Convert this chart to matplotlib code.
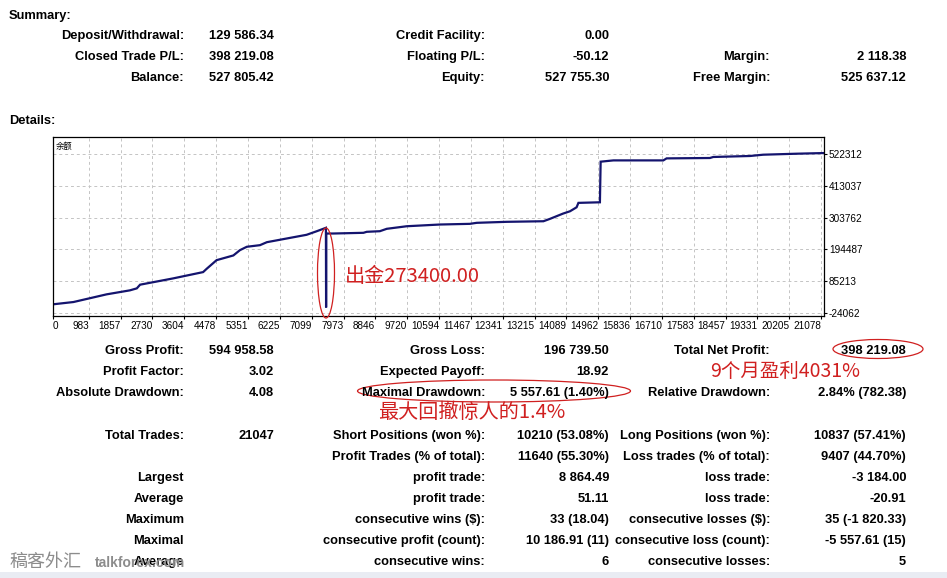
import numpy as np
import matplotlib
matplotlib.use("Agg")
import matplotlib.pyplot as plt
from matplotlib.patches import Ellipse

W, H = 947, 578

# balance curve (trade number, balance)
trade_no = [0, 560, 1470, 2110, 2300, 2390, 3300, 4120, 4220, 4490, 4950, 5130,
            5320, 5680, 5870, 6960, 7240, 7490, 7495, 7500, 7690, 8520, 8610,
            8970, 9160, 9710, 10620, 11440, 11630, 12450, 13460, 13640, 14000,
            14190, 14370, 14420, 15010, 15030, 15380, 16750, 16840, 18030,
            18120, 19130, 19490, 20410, 21140]
balance = [6700, 14500, 40800, 54500, 61300, 73900, 95500, 117000, 128600,
           157900, 174000, 192100, 203700, 209200, 219400, 244700, 257000,
           268600, -4000, 249100, 249100, 251500, 254900, 257000, 265200,
           274000, 279900, 282200, 285700, 289100, 291100, 299300, 317400,
           325300, 338900, 354000, 356000, 495000, 499400, 499400, 506300,
           507600, 511100, 514500, 518900, 522300, 524500]

x_ticks = [0, 983, 1857, 2730, 3604, 4478, 5351, 6225, 7099, 7973, 8846, 9720,
           10594, 11467, 12341, 13215, 14089, 14962, 15836, 16710, 17583,
           18457, 19331, 20205, 21078]
y_ticks = [-24062, 85213, 194487, 303762, 413037, 522312]

summary_rows = [
    ("Deposit/Withdrawal:", "129 586.34", "Credit Facility:", "0.00", "", ""),
    ("Closed Trade P/L:", "398 219.08", "Floating P/L:", "-50.12", "Margin:", "2 118.38"),
    ("Balance:", "527 805.42", "Equity:", "527 755.30", "Free Margin:", "525 637.12"),
]
detail_rows = [
    ("Gross Profit:", "594 958.58", "Gross Loss:", "196 739.50", "Total Net Profit:", "398 219.08"),
    ("Profit Factor:", "3.02", "Expected Payoff:", "18.92", "", ""),
    ("Absolute Drawdown:", "4.08", "Maximal Drawdown:", "5 557.61 (1.40%)", "Relative Drawdown:", "2.84% (782.38)"),
]
trade_rows = [
    ("Total Trades:", "21047", "Short Positions (won %):", "10210 (53.08%)", "Long Positions (won %):", "10837 (57.41%)"),
    ("", "", "Profit Trades (% of total):", "11640 (55.30%)", "Loss trades (% of total):", "9407 (44.70%)"),
    ("Largest", "", "profit trade:", "8 864.49", "loss trade:", "-3 184.00"),
    ("Average", "", "profit trade:", "51.11", "loss trade:", "-20.91"),
    ("Maximum", "", "consecutive wins ($):", "33 (18.04)", "consecutive losses ($):", "35 (-1 820.33)"),
    ("Maximal", "", "consecutive profit (count):", "10 186.91 (11)", "consecutive loss (count):", "-5 557.61 (15)"),
    ("Average", "", "consecutive wins:", "6", "consecutive losses:", "5"),
]

LATIN = ["Liberation Sans", "DejaVu Sans"]
CJK = ["Noto Sans CJK SC", "DejaVu Sans"]
RED = "#d02020"

fig = plt.figure(figsize=(W / 100, H / 100), dpi=100)
fig.patch.set_facecolor("white")


def ftext(x, y, s, ha="left", va="center", **kw):
    kw.setdefault("family", LATIN)
    kw.setdefault("fontsize", 9.3)
    kw.setdefault("fontweight", "bold")
    kw.setdefault("color", "black")
    fig.text(x / W, 1 - y / H, s, ha=ha, va=va, **kw)


def table(rows, y0, step):
    # y0 is the baseline of the first row
    cols = [184, 274, 485, 609, 770, 906]
    for i, row in enumerate(rows):
        y = y0 + i * step
        for c, s in zip(cols, row):
            if s:
                ftext(c, y, s, ha="right", va="baseline")


ftext(9, 19, "Summary:", va="baseline")
table(summary_rows, 39, 21)
ftext(9, 124, "Details:", va="baseline")
table(detail_rows, 354, 21)
table(trade_rows, 439, 21)

# balance chart
ax = fig.add_axes([53 / W, 1 - 316 / H, (824 - 53) / W, (316 - 137) / H])
ax.plot(trade_no, balance, color="#14146e", lw=1.6, solid_joinstyle="miter")
ax.set_xlim(0, 21160)
ax.set_ylim(-33300, 579500)
ax.set_xticks(x_ticks)
ax.set_xticklabels([str(v) for v in x_ticks])
ax.set_yticks(y_ticks)
ax.set_yticklabels([str(v) for v in y_ticks])
ax.yaxis.tick_right()
ax.tick_params(axis="both", labelsize=7.2, length=2, width=0.8, pad=1.5,
               colors="black")
for lab in ax.get_xticklabels():
    lab.set_family(LATIN)
    lab.set_ha("left" if lab.get_text() == "0" else "right")
for lab in ax.get_yticklabels():
    lab.set_family(LATIN)
ax.grid(True, color="#c4c4c4", ls=(0, (3, 3)), lw=0.7)
for sp in ax.spines.values():
    sp.set_linewidth(0.9)
    sp.set_color("black")
ax.text(0.004, 0.95, "余额", transform=ax.transAxes, fontsize=6,
        family=CJK, va="center", ha="left")

# red notes
ftext(345, 277, "出金273400.00", family=CJK, fontsize=14.5, color=RED,
      fontweight="normal")
ftext(710, 371, "9个月盈利4031%", family=CJK, fontsize=14, color=RED,
      fontweight="normal")
ftext(378, 412, "最大回撤惊人的1.4%", family=CJK, fontsize=14.5, color=RED,
      fontweight="normal")

fax = fig.add_axes([0, 0, 1, 1], facecolor="none")
fax.set_xlim(0, W)
fax.set_ylim(H, 0)
fax.axis("off")
for cx, cy, ew, eh in [(326, 273, 17, 90), (878, 349, 90, 19), (494, 391, 273, 22)]:
    fax.add_patch(Ellipse((cx, cy), ew, eh, fill=False, ec=RED, lw=0.9))
fax.axhspan(572, 578, color="#e9ecf3", lw=0)

# watermark
ftext(10, 562, "稿客外汇", family=CJK, fontsize=13, color="#8c8c8c",
      fontweight="normal")
ftext(95, 563, "talkforex.com", fontsize=10, color="#8c8c8c")

fig.savefig("out.png", dpi=100)
